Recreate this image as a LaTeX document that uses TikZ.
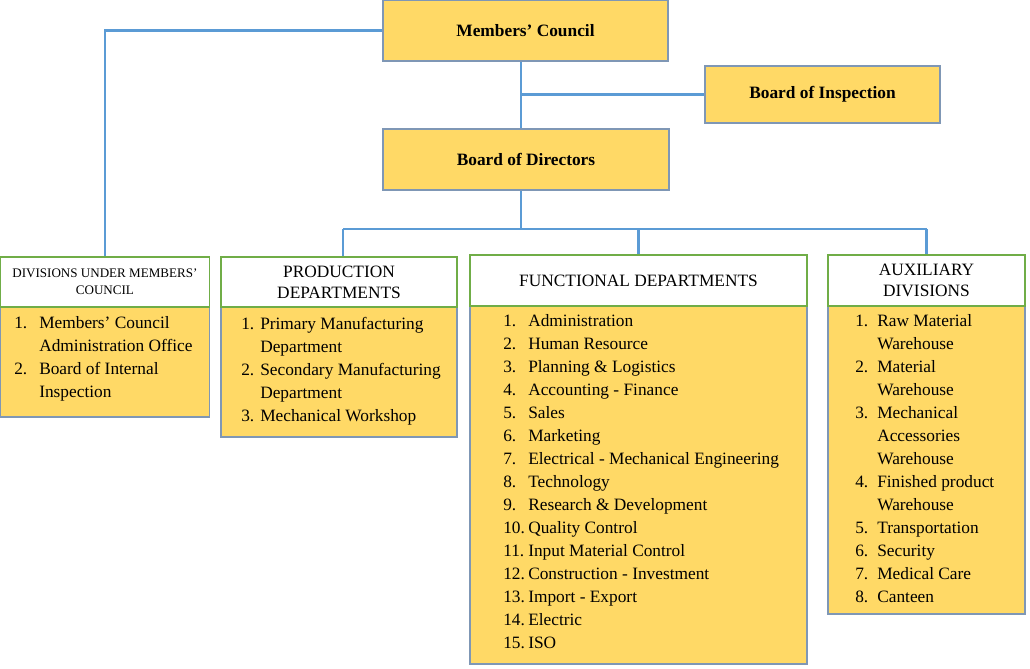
\documentclass[tikz,border=0pt]{standalone}
\usepackage{fontspec}
\setmainfont{Liberation Serif}
\usepackage{tikz}

\definecolor{gold}{HTML}{FFD966}
\definecolor{boxline}{HTML}{7F97B5}
\definecolor{hdgreen}{HTML}{70AD47}
\definecolor{linkblue}{HTML}{5B9BD5}

\tikzset{
  topbox/.style={draw=boxline, fill=gold, line width=0.8pt, inner sep=0pt,
    font=\bfseries\fontsize{13}{15}\selectfont},
  headbox/.style={draw=hdgreen, fill=white, line width=0.8pt, inner sep=0pt, align=center},
  bodybox/.style={draw=boxline, fill=gold, line width=0.8pt, inner sep=0pt},
  item/.style={anchor=base west, inner sep=0pt, font=\fontsize{13}{15}\selectfont},
  link/.style={draw=linkblue, line width=1.6pt}
}

\begin{document}
\begin{tikzpicture}[x=0.75pt, y=-0.75pt]
  \useasboundingbox (0,0) rectangle (1030,668);

  % Top boxes
  \node[topbox, minimum width=285*0.75pt, minimum height=61*0.75pt] (mc) at (525.5,30.5) {Members’ Council};
  \node[topbox, minimum width=235*0.75pt, minimum height=57*0.75pt] (boi) at (822.5,94.5) {Board of Inspection};
  \node[topbox, minimum width=286*0.75pt, minimum height=61*0.75pt] (bod) at (526,159.5) {Board of Directors};

  % Bodies
  \node[bodybox, minimum width=209*0.75pt, minimum height=110*0.75pt] (divb) at (104.9,362) {};
  \node[bodybox, minimum width=236*0.75pt, minimum height=130*0.75pt] (prodb) at (339,372) {};
  \node[bodybox, minimum width=337*0.75pt, minimum height=358*0.75pt] (funcb) at (638.5,485) {};
  \node[bodybox, minimum width=197*0.75pt, minimum height=308*0.75pt] (auxb) at (926.5,460) {};

  % Headers
  \node[headbox, minimum width=209*0.75pt, minimum height=50*0.75pt,
    font=\fontsize{9.8}{12.75}\selectfont] (divh) at (104.9,282) {DIVISIONS UNDER MEMBERS’\\COUNCIL};
  \node[headbox, minimum width=236*0.75pt, minimum height=50*0.75pt,
    font=\fontsize{13}{15.75}\selectfont] (prodh) at (339,282) {PRODUCTION\\DEPARTMENTS};
  \node[headbox, minimum width=337*0.75pt, minimum height=51*0.75pt,
    font=\fontsize{13}{15.75}\selectfont] (funch) at (638.5,280.5) {FUNCTIONAL DEPARTMENTS};
  \node[headbox, minimum width=197*0.75pt, minimum height=51*0.75pt,
    font=\fontsize{13}{15.75}\selectfont] (auxh) at (926.5,280.5) {AUXILIARY\\DIVISIONS};

  % Connectors
  \coordinate (trunk) at (521,94.5);
  \coordinate (bus) at (521,229);
  \draw[link] (mc.south -| trunk) -- (bod.north -| trunk);
  \draw[link] (trunk) -- (boi.west);
  \draw[link] (mc.west) -- (mc.west -| divh.north) -- (divh.north);
  \draw[link] (bod.south -| bus) -- (bus);
  \draw[link] ([xshift=3pt]prodh.north |- bus) -- (auxh.north |- bus);
  \draw[link] ([xshift=3pt]prodh.north |- bus) -- ([xshift=3pt]prodh.north);
  \draw[link] (funch.north |- bus) -- (funch.north);
  \draw[link] (auxh.north |- bus) -- (auxh.north);

  % Lists
  \foreach \nr/\lbl [count=\i from 0] in {1./Members’ Council, /Administration Office,
      2./Board of Internal, /Inspection}
    \node[item] (d\i) at (14,328+23*\i) {\makebox[18.75pt][l]{\nr}\lbl};

  \foreach \nr/\lbl [count=\i from 0] in {1./Primary Manufacturing, /Department,
      2./Secondary Manufacturing, /Department, 3./Mechanical Workshop}
    \node[item] (p\i) at (241,329+23*\i) {\makebox[14.25pt][l]{\nr}\lbl};

  \foreach \nr/\lbl [count=\i from 0] in {1./Administration, 2./Human Resource,
      3./Planning \& Logistics, 4./Accounting - Finance, 5./Sales, 6./Marketing,
      7./Electrical - Mechanical Engineering, 8./Technology, 9./Research \& Development,
      10./Quality Control, 11./Input Material Control, 12./Construction - Investment,
      13./Import - Export, 14./Electric, 15./ISO}
    \node[item] (f\i) at (503,326+23*\i) {\makebox[18.75pt][l]{\nr}\lbl};

  \foreach \nr/\lbl [count=\i from 0] in {1./Raw Material, /Warehouse, 2./Material,
      /Warehouse, 3./Mechanical, /Accessories, /Warehouse, 4./Finished product,
      /Warehouse, 5./Transportation, 6./Security, 7./Medical Care, 8./Canteen}
    \node[item] (a\i) at (855,326+23*\i) {\makebox[16.5pt][l]{\nr}\lbl};
\end{tikzpicture}
\end{document}
